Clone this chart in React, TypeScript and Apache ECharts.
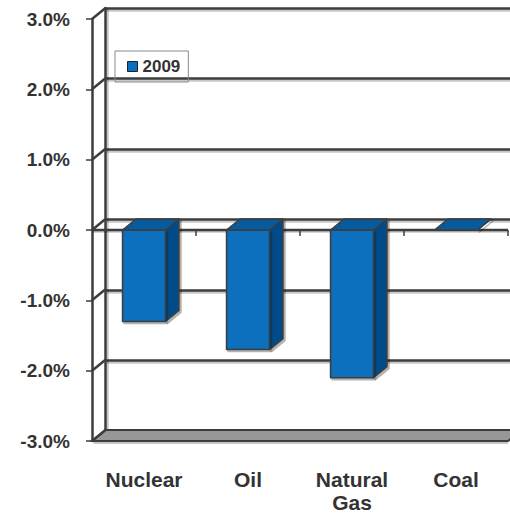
import React, { useEffect, useRef } from "react";
import * as echarts from "echarts";

// Chart data
const CATEGORIES = ["Nuclear", "Oil", "Natural\nGas", "Coal"];
const SERIES_NAME = "2009";
const VALUES_2009 = [-1.3, -1.7, -2.1, 0];
const Y_TICKS = [-3, -2, -1, 0, 1, 2, 3];

// 3D look: offset of the back wall relative to the front plane
const DX = 13.5;
const DY = 11;
const LINE = "#3d3d3d";
const SHADOW_LINE = "rgba(0,0,0,0.22)";
const FONT = "'Liberation Sans', Arial, sans-serif";
const TEXT = "#333333";

const FACE_FRONT = "#0B6FBE";
const FACE_TOP = "#075A9C";
const FACE_SIDE = "#064C88";

const GRID_LEFT = 92;
const GRID_TOP = 19;
const GRID_W = 416;
const GRID_H = 423;

export default function App() {
  const ref = useRef<HTMLDivElement>(null);

  useEffect(() => {
    if (!ref.current) return;
    const chart = echarts.init(ref.current, undefined, { renderer: "svg" });

    const yMin = Y_TICKS[0];
    const yMax = Y_TICKS[Y_TICKS.length - 1];

    const backAxis = (gridIndex: number, color: string) => ({
      type: "value",
      gridIndex,
      min: yMin,
      max: yMax,
      interval: 1,
      axisLine: { show: true, lineStyle: { color, width: 2.5 } },
      axisTick: { show: false },
      axisLabel: { show: false },
      splitLine: { show: true, lineStyle: { color, width: 2.5 } },
    });

    const option: any = {
      animation: false,
      backgroundColor: "#ffffff",
      legend: {
        data: [{ name: SERIES_NAME, icon: "rect" }],
        left: 115,
        top: 51,
        padding: [7, 8, 7, 12],
        itemWidth: 10,
        itemHeight: 10,
        borderColor: "#8a8a8a",
        borderWidth: 1,
        backgroundColor: "transparent",
        textStyle: { fontFamily: FONT, fontWeight: "bold", fontSize: 17, color: TEXT },
        itemStyle: { color: FACE_FRONT, borderColor: "#222", borderWidth: 1 },
      },
      grid: [
        { left: GRID_LEFT, top: GRID_TOP, width: GRID_W, height: GRID_H },
        // soft shadow under the back-wall lines
        { left: GRID_LEFT + DX + 1.5, top: GRID_TOP - DY + 1.8, width: GRID_W, height: GRID_H },
        // back wall
        { left: GRID_LEFT + DX, top: GRID_TOP - DY, width: GRID_W, height: GRID_H },
      ],
      xAxis: [
        {
          type: "category",
          gridIndex: 0,
          data: CATEGORIES,
          position: "bottom",
          axisLine: { show: false, onZero: false },
          axisTick: { show: false },
          axisLabel: {
            margin: 27,
            fontFamily: FONT,
            fontWeight: "bold",
            fontSize: 21,
            lineHeight: 23,
            color: TEXT,
            interval: 0,
          },
        },
        { type: "category", gridIndex: 1, data: CATEGORIES, show: false },
        { type: "category", gridIndex: 2, data: CATEGORIES, show: false },
      ],
      yAxis: [
        {
          type: "value",
          gridIndex: 0,
          min: yMin,
          max: yMax,
          interval: 1,
          axisLine: { show: true, lineStyle: { color: LINE, width: 2.5 } },
          axisTick: { show: true, length: 6, lineStyle: { color: LINE, width: 1.5 } },
          splitLine: { show: false },
          axisLabel: {
            margin: 22,
            fontFamily: FONT,
            fontWeight: "bold",
            fontSize: 19,
            color: TEXT,
            formatter: (v: number) => v.toFixed(1) + "%",
          },
        },
        backAxis(1, SHADOW_LINE),
        backAxis(2, LINE),
      ],
      series: [
        {
          // side wall, floor and the front category axis at zero
          type: "custom",
          name: "frame",
          xAxisIndex: 0,
          yAxisIndex: 0,
          silent: true,
          z: 1,
          data: [[0, 0]],
          renderItem: (params: any, api: any) => {
            const cs = params.coordSys;
            const x0 = cs.x;
            const x1 = cs.x + cs.width;
            const yb = api.coord([0, yMin])[1];
            const yz = api.coord([0, 0])[1];
            const band = api.size([1, 0])[0];
            const children: any[] = [];
            children.push({
              type: "polygon",
              shape: { points: [[x0, yb], [x1, yb], [x1 + DX, yb - DY], [x0 + DX, yb - DY]] },
              style: { fill: "#979797", stroke: LINE, lineWidth: 2 },
            });
            children.push({
              type: "line",
              shape: { x1: x0 + 1.5, y1: yb + 2, x2: x1, y2: yb + 2 },
              style: { stroke: SHADOW_LINE, lineWidth: 2 },
            });
            Y_TICKS.forEach((t) => {
              const y = api.coord([0, t])[1];
              children.push({
                type: "line",
                shape: { x1: x0, y1: y, x2: x0 + DX, y2: y - DY },
                style: { stroke: LINE, lineWidth: 2.5 },
              });
            });
            children.push({
              type: "line",
              shape: { x1: x0, y1: yz + 1.8, x2: x1, y2: yz + 1.8 },
              style: { stroke: SHADOW_LINE, lineWidth: 2 },
            });
            children.push({
              type: "line",
              shape: { x1: x0, y1: yz, x2: x1, y2: yz },
              style: { stroke: LINE, lineWidth: 2.5 },
            });
            for (let i = 1; i <= CATEGORIES.length; i++) {
              const x = x0 + band * i;
              children.push({
                type: "line",
                shape: { x1: x, y1: yz, x2: x, y2: yz + 6 },
                style: { stroke: LINE, lineWidth: 1.5 },
              });
            }
            return { type: "group", children };
          },
        },
        {
          type: "custom",
          name: SERIES_NAME,
          xAxisIndex: 0,
          yAxisIndex: 0,
          z: 3,
          itemStyle: { color: FACE_FRONT },
          encode: { x: 0, y: 1 },
          data: VALUES_2009.map((v, i) => [i, v]),
          renderItem: (params: any, api: any) => {
            const cat = api.value(0);
            const v = api.value(1);
            const p0 = api.coord([cat, 0]);
            const p1 = api.coord([cat, v]);
            const bw = api.size([1, 0])[0] * 0.413;
            const xl = p0[0] - bw / 2;
            const xr = p0[0] + bw / 2;
            const yt = Math.min(p0[1], p1[1]);
            const yb = Math.max(p0[1], p1[1]);
            const edge = { stroke: LINE, lineWidth: 1.5, lineJoin: "round" };
            return {
              type: "group",
              children: [
                {
                  type: "polygon",
                  shape: { points: [[xr, yt], [xr + DX, yt - DY], [xr + DX, yb - DY], [xr, yb]] },
                  style: {
                    fill: FACE_SIDE,
                    ...edge,
                    shadowColor: "rgba(0,0,0,0.3)",
                    shadowOffsetX: 2,
                    shadowOffsetY: 2,
                    shadowBlur: 1,
                  },
                },
                {
                  type: "rect",
                  shape: { x: xl, y: yt, width: bw, height: yb - yt },
                  style: {
                    fill: FACE_FRONT,
                    ...edge,
                    shadowColor: "rgba(0,0,0,0.3)",
                    shadowOffsetX: 1.5,
                    shadowOffsetY: 2,
                    shadowBlur: 1,
                  },
                },
                {
                  type: "polygon",
                  shape: { points: [[xl, yt], [xl + DX, yt - DY], [xr + DX, yt - DY], [xr, yt]] },
                  style: { fill: FACE_TOP, ...edge },
                },
              ],
            };
          },
        },
      ],
    };

    chart.setOption(option);
    return () => chart.dispose();
  }, []);

  return (
    <div
      ref={ref}
      style={{ position: "fixed", left: 0, top: 0, width: 510, height: 514 }}
    />
  );
}
